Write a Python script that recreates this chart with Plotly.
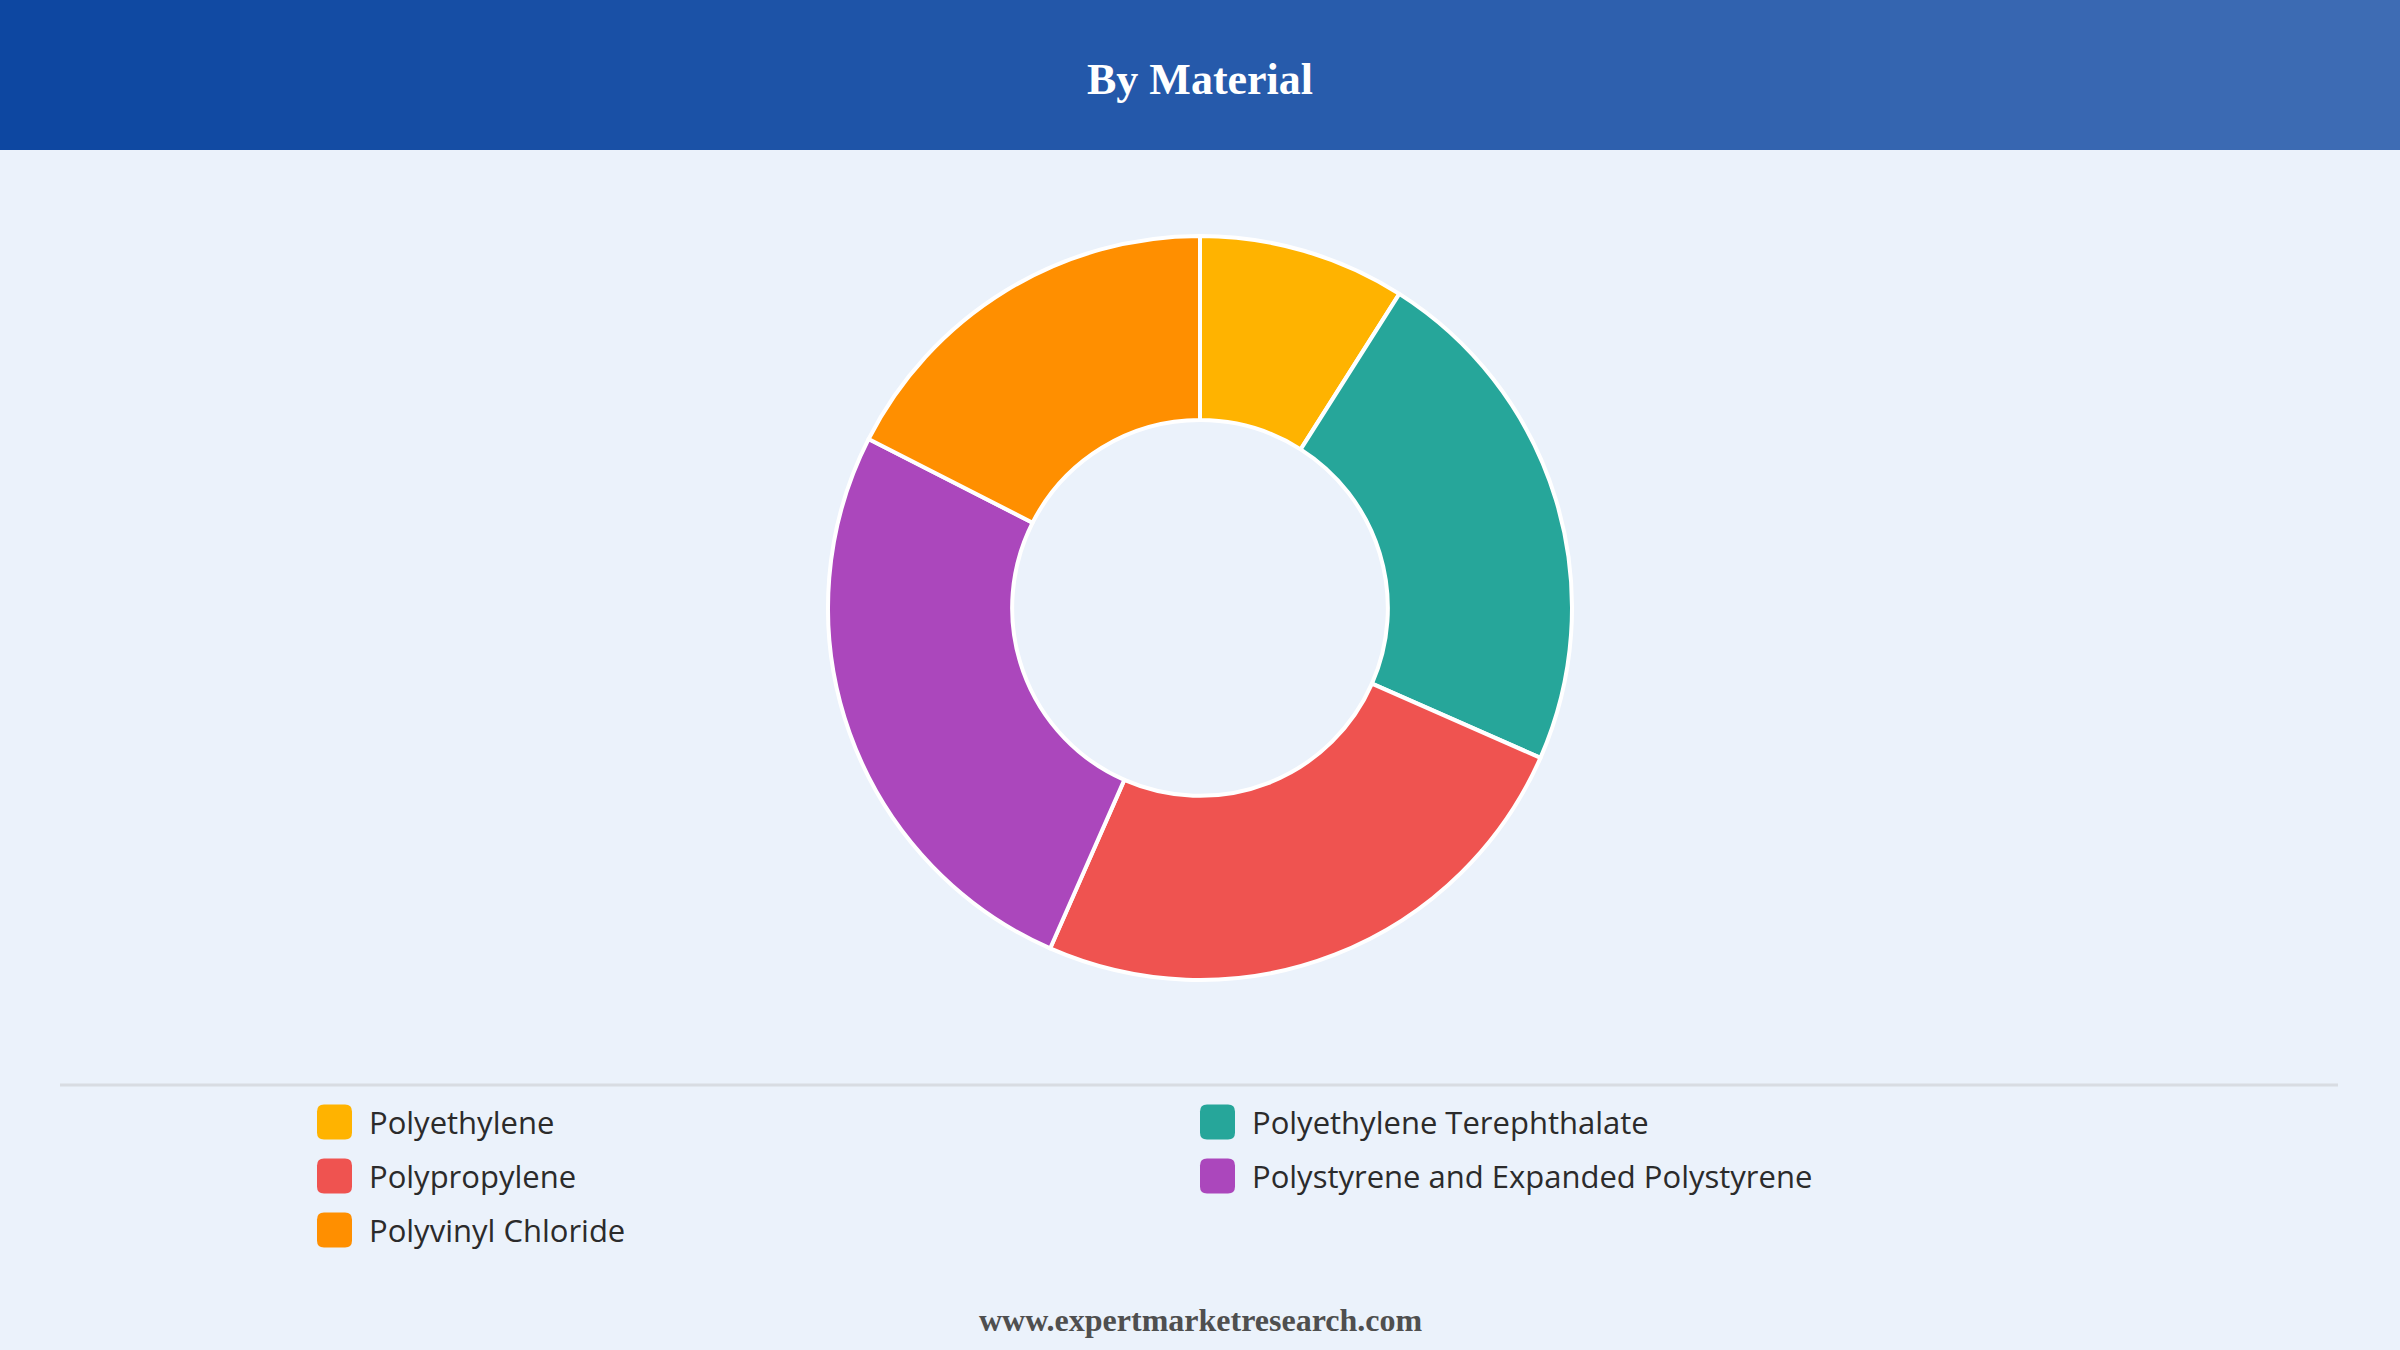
import plotly.graph_objects as go

# data
materials = [
    "Polyethylene",
    "Polyethylene Terephthalate",
    "Polypropylene",
    "Polystyrene and Expanded Polystyrene",
    "Polyvinyl Chloride",
]
shares = [9.0, 22.6, 25.0, 25.9, 17.5]
colors = ["#FFB300", "#26A69A", "#EF5350", "#AB47BC", "#FF8F00"]

W, H = 2400, 1350
bg = "#EBF2FB"

fig = go.Figure()

fig.add_trace(go.Pie(
    labels=materials,
    values=shares,
    hole=0.505,
    sort=False,
    direction="clockwise",
    rotation=0,
    marker=dict(colors=colors, line=dict(color="white", width=4)),
    textinfo="none",
    hoverinfo="label+percent",
    showlegend=False,
    domain=dict(x=[0.3, 0.7], y=[0.2741, 0.8252]),
))

shapes = []

# header band with a left-to-right gradient
c0 = (13, 71, 161)
c1 = (62, 108, 180)
n = 80
for i in range(n):
    t = i / (n - 1)
    col = "rgb(%d,%d,%d)" % tuple(round(a + (b - a) * t) for a, b in zip(c0, c1))
    shapes.append(dict(type="rect", xref="paper", yref="paper",
                       x0=i / n, x1=(i + 1) / n + 0.002, y0=1 - 150 / H, y1=1,
                       fillcolor=col, line=dict(width=0), layer="below"))

# separator above legend
shapes.append(dict(type="line", xref="paper", yref="paper",
                   x0=60 / W, x1=2338 / W, y0=1 - 1085 / H, y1=1 - 1085 / H,
                   line=dict(color="#D8DCE2", width=3)))

annotations = [
    dict(text="<b>By Material</b>", x=0.5, y=1 - 80 / H, xref="paper", yref="paper",
         xanchor="center", yanchor="middle", showarrow=False,
         font=dict(family="Liberation Serif", size=44, color="white")),
    dict(text="<b>www.expertmarketresearch.com</b>", x=0.5, y=1 - 1320 / H,
         xref="paper", yref="paper", xanchor="center", yanchor="middle", showarrow=False,
         font=dict(family="Liberation Serif", size=32, color="#4F4F4F")),
]

# manual legend: two columns, row-major
col_x = [317, 1200]
row_y = [1122, 1176, 1230]
sw = 35
r = 7
for i, (name, c) in enumerate(zip(materials, colors)):
    px = col_x[i % 2]
    py = row_y[i // 2]
    x0, x1 = px / W, (px + sw) / W
    y0, y1 = 1 - (py + sw / 2) / H, 1 - (py - sw / 2) / H
    rx, ry = r / W, r / H
    path = (f"M{x0+rx},{y0} L{x1-rx},{y0} Q{x1},{y0} {x1},{y0+ry} "
            f"L{x1},{y1-ry} Q{x1},{y1} {x1-rx},{y1} L{x0+rx},{y1} "
            f"Q{x0},{y1} {x0},{y1-ry} L{x0},{y0+ry} Q{x0},{y0} {x0+rx},{y0} Z")
    shapes.append(dict(type="path", xref="paper", yref="paper", path=path,
                       fillcolor=c, line=dict(width=0)))
    annotations.append(dict(text=name, x=(px + sw + 15) / W, y=1 - py / H,
                            xref="paper", yref="paper", xanchor="left", yanchor="middle",
                            showarrow=False,
                            font=dict(family="Open Sans", size=31, color="#2B2B2B")))

fig.update_layout(
    width=W, height=H,
    margin=dict(l=0, r=0, t=0, b=0),
    paper_bgcolor=bg,
    plot_bgcolor=bg,
    shapes=shapes,
    annotations=annotations,
)

fig.write_html("out.html", config={"displayModeBar": False},
               post_script="document.body.style.margin='0';document.body.style.overflow='hidden';")
